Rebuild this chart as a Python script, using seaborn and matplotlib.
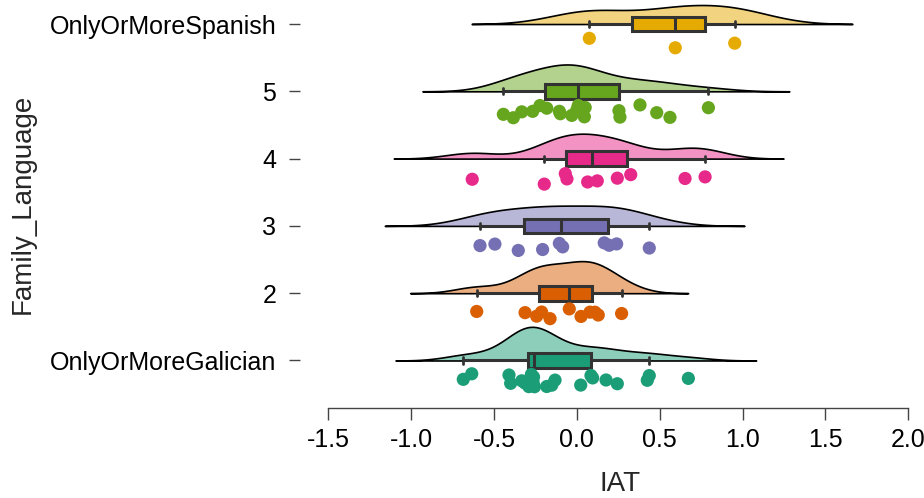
import numpy as np
import pandas as pd
import matplotlib
matplotlib.use("Agg")
import matplotlib.pyplot as plt
import seaborn as sns
from matplotlib.transforms import ScaledTranslation, Affine2D
from matplotlib.colors import to_rgba

# ---- data ----
groups = ["OnlyOrMoreSpanish", "5", "4", "3", "2", "OnlyOrMoreGalician"]
colors = ["#E6AB02", "#66A61E", "#E7298A", "#7570B3", "#D95F02", "#1B9E77"]

iat_spanish = [0.075, 0.594, 0.953]
iat_5 = [-0.444, -0.384, -0.333, -0.267, -0.223, -0.182, -0.106, -0.100,
         -0.031, 0.000, 0.008, 0.030, 0.045, 0.050, 0.254, 0.260, 0.381,
         0.482, 0.562, 0.794]
iat_4 = [-0.632, -0.197, -0.070, -0.060, 0.065, 0.123, 0.244, 0.325,
         0.653, 0.774]
iat_3 = [-0.585, -0.495, -0.354, -0.207, -0.106, -0.086, 0.165, 0.195,
         0.240, 0.437]
iat_2 = [-0.605, -0.313, -0.243, -0.213, -0.162, -0.046, 0.025, 0.079,
         0.109, 0.129, 0.270]
iat_galician = [-0.686, -0.635, -0.410, -0.400, -0.333, -0.313, -0.290,
                -0.280, -0.275, -0.270, -0.265, -0.262, -0.256, -0.182,
                -0.152, -0.132, 0.023, 0.085, 0.095, 0.176, 0.244, 0.425,
                0.437, 0.673]

series = [iat_spanish, iat_5, iat_4, iat_3, iat_2, iat_galician]
df = pd.DataFrame({
    "IAT": np.concatenate([np.asarray(s, float) for s in series]),
    "Family_Language": np.concatenate([[g] * len(s) for g, s in zip(groups, series)]),
})


def nrd0(x):
    x = np.asarray(x, float).ravel()
    sd = np.std(x, ddof=1)
    q1, q3 = np.percentile(x, [25, 75])
    return 0.9 * min(sd, (q3 - q1) / 1.34) * len(x) ** -0.2


def nrd0_factor(kde):
    # R's bw.nrd0, expressed as a factor of the sample standard deviation
    x = np.asarray(kde.dataset).ravel()
    return nrd0(x) / np.std(x, ddof=1)


def peak_density(x):
    x = np.asarray(x, float)
    bw = nrd0(x)
    grid = np.linspace(x.min() - 3 * bw, x.max() + 3 * bw, 400)
    d = np.exp(-0.5 * ((grid[:, None] - x[None, :]) / bw) ** 2).sum(1)
    return (d / (len(x) * bw * np.sqrt(2 * np.pi))).max()


# relative cloud heights (area-normalised, like the reference)
peaks = np.array([peak_density(s) for s in series])
rel_height = peaks / peaks.max()

sns.set_style("ticks")
plt.rcParams["font.family"] = ["Liberation Sans", "DejaVu Sans"]

fig = plt.figure(figsize=(9.24, 4.98), dpi=100)
ax = fig.add_axes([300 / 924, (498 - 408) / 498, 616.4 / 924, 408 / 498])

# half violins (clouds)
sns.violinplot(data=df, x="IAT", y="Family_Language", order=groups,
               split=True, inner=None, cut=3, bw_method=nrd0_factor,
               density_norm="width", width=1.0, gridsize=200,
               color="#cccccc", linecolor="black", linewidth=1.2, ax=ax)
# seaborn puts each half's flat edge at pos + 0.5 (peak at pos - 0.5); move
# the flat edge onto the category line, half-unit tall, scaled by density
for i, (coll, c) in enumerate(zip(ax.collections[:len(groups)], colors)):
    k = 0.5 * rel_height[i]
    coll.set_facecolor(to_rgba(c, 0.5))
    coll.set_edgecolor("black")
    coll.set_transform(
        Affine2D().scale(1, k).translate(0, i - k * (i + 0.5)) + ax.transData)

# boxes
n_lines = len(ax.lines)
sns.boxplot(data=df, x="IAT", y="Family_Language", order=groups,
            hue="Family_Language", hue_order=groups, palette=colors,
            dodge=False, legend=False, width=0.22, showfliers=False,
            saturation=1, linecolor="#333333", linewidth=2.2, ax=ax)
# shorten whisker caps
for ln in ax.lines[n_lines:]:
    xd, yd = np.asarray(ln.get_xdata(), float), np.asarray(ln.get_ydata(), float)
    if len(xd) == 2 and xd[0] == xd[1]:
        span = abs(yd[1] - yd[0])
        if 0 < span < 0.2:
            c = yd.mean()
            ln.set_ydata([c - 0.045, c + 0.045])
            ln.set_linewidth(2.0)

# rain (points)
n_before = len(ax.collections)
np.random.seed(7)
sns.stripplot(data=df, x="IAT", y="Family_Language", order=groups,
              hue="Family_Language", hue_order=groups, palette=colors,
              legend=False, jitter=0.1, size=9.5, linewidth=0, ax=ax,
              zorder=5)
shift = ScaledTranslation(0, -0.20, fig.dpi_scale_trans)
for coll in ax.collections[n_before:]:
    coll.set_offset_transform(ax.transData + shift)

ax.set_xlim(-1.672, 2.05)
ax.set_ylim(5.706, -0.357)
ticks = np.arange(-1.5, 2.01, 0.5)
ax.set_xticks(ticks)
ax.set_xticklabels([f"{v:.1f}" for v in ticks])

for s in ["top", "right", "left"]:
    ax.spines[s].set_visible(False)
ax.spines["bottom"].set_bounds(-1.5, 2.0)
ax.spines["bottom"].set_color("#444444")
ax.spines["bottom"].set_linewidth(1.0)

ax.tick_params(axis="x", length=8.5, width=1.0, color="#444444", pad=6,
               labelsize=18, labelcolor="black")
ax.tick_params(axis="y", length=8, width=1.0, color="#444444", pad=9,
               labelsize=18, labelcolor="black")

ax.set_xlabel("IAT", fontsize=20)
ax.set_ylabel("Family_Language", fontsize=20)
ax.xaxis.set_label_coords((620 - 300) / 616.4, (408 - 471) / 408)
ax.yaxis.set_label_coords((36 - 300) / 616.4, 0.5)

fig.savefig("out.png", dpi=100)
